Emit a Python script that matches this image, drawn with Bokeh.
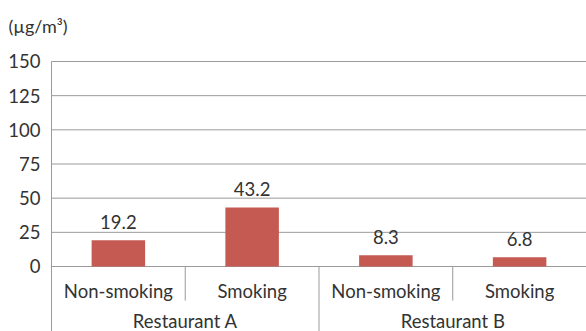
from bokeh.plotting import figure
from bokeh.models import Range1d, ColumnDataSource
from bokeh.core.properties import value
from bokeh.embed import file_html
from bokeh.resources import INLINE

subcats = ["Non-smoking", "Smoking", "Non-smoking", "Smoking"]
groups = ["Restaurant A", "Restaurant B"]
values = [19.2, 43.2, 8.3, 6.8]
value_labels = ["19.2", "43.2", "8.3", "6.8"]
y_ticks = [0, 25, 50, 75, 100, 125, 150]
y_tick_labels = ["0", "25", "50", "75", "100", "125", "150"]
unit = "(µg/m³)"

FONT = "Lato"
GREY = "#9a9a9a"
TXT = "#333333"
FS = "18.5px"

n = len(subcats)
xs = [i + 0.5 for i in range(n)]
n_per_group = n // len(groups)
gx = [g * n_per_group + n_per_group / 2 for g in range(len(groups))]
ymax = y_ticks[-1]

# frame fills the whole canvas; the data area starts 51px from the left
p = figure(width=586, height=331, output_backend="svg", toolbar_location=None,
           x_range=Range1d(-0.3813, n), y_range=Range1d(-47.56, 194.63),
           min_border=0)
p.outline_line_color = None
p.background_fill_color = "white"
p.border_fill_color = "white"
p.axis.visible = False
p.grid.visible = False

# horizontal grid lines
p.segment(x0=[0] * len(y_ticks), y0=y_ticks, x1=[n] * len(y_ticks), y1=y_ticks,
          line_color=GREY, line_width=1)
# y tick labels
p.text(x=[0] * len(y_ticks), y=y_ticks, text=y_tick_labels, x_offset=-11,
       text_align="right", text_baseline="middle", text_font=value(FONT),
       text_font_size=FS, text_color=TXT)
# unit label
p.text(x=[0], y=[ymax], text=[unit], x_offset=-43, y_offset=-35,
       text_align="left", text_baseline="middle", text_font=value(FONT),
       text_font_size="18px", text_color=TXT)

src = ColumnDataSource(dict(x=xs, top=values, lab=value_labels, cat=subcats))
p.vbar(x="x", top="top", bottom=0, width=0.4, source=src,
       fill_color="#C55A52", line_color=None)
p.text(x="x", y="top", text="lab", source=src, text_align="center",
       text_baseline="bottom", y_offset=-11, text_font=value(FONT),
       text_font_size=FS, text_color=TXT)
p.text(x="x", y=-17.6, text="cat", source=src, text_align="center",
       text_baseline="middle", text_font=value(FONT), text_font_size=FS,
       text_color=TXT)
p.text(x=gx, y=[-40] * len(groups), text=groups, text_align="center",
       text_baseline="middle", text_font=value(FONT), text_font_size=FS,
       text_color=TXT)

# separators
p.segment(x0=[0], y0=[ymax], x1=[0], y1=[-47.6], line_color=GREY, line_width=1)
outer = [n_per_group * g for g in range(1, len(groups))]
p.segment(x0=outer, y0=[0] * len(outer), x1=outer, y1=[-47.6] * len(outer),
          line_color=GREY, line_width=1)
inner = [i for i in range(1, n) if i % n_per_group != 0]
p.segment(x0=inner, y0=[0] * len(inner), x1=inner, y1=[-25] * len(inner),
          line_color=GREY, line_width=1)

open("out.html", "w").write(file_html(p, INLINE))
